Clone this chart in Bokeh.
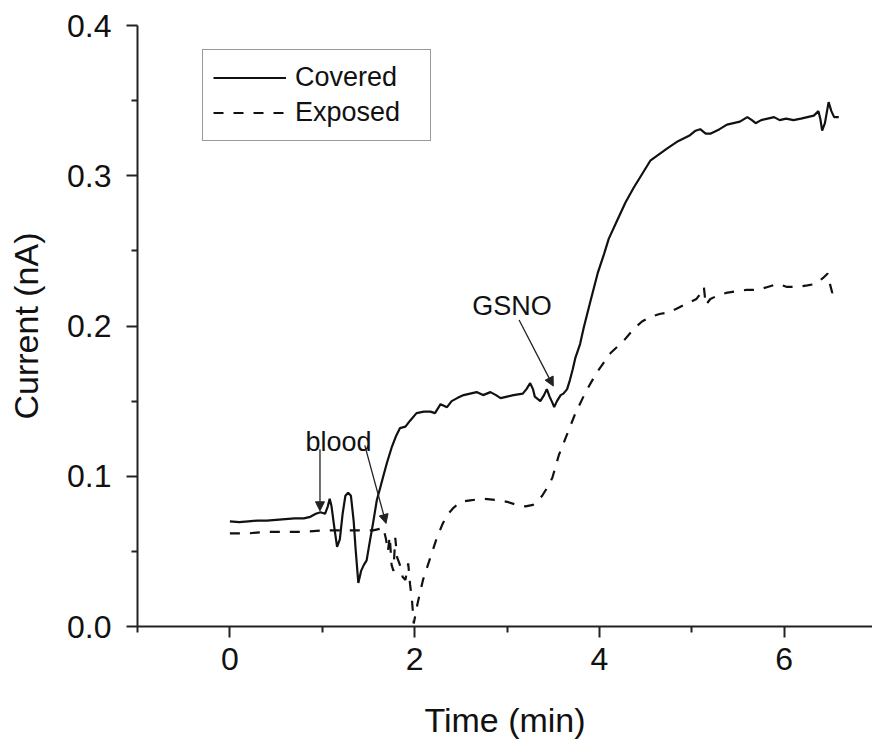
from bokeh.plotting import figure
from bokeh.models import (Range1d, FixedTicker, Legend, LegendItem, Arrow, NormalHead, Label,
                          CustomJSTickFormatter)
from bokeh.embed import file_html
from bokeh.resources import INLINE

# ---- data ----
covered_t = [0.00, 0.10, 0.20, 0.30, 0.40, 0.50, 0.60, 0.70, 0.80, 0.87, 0.93, 0.98, 1.03, 1.06,
             1.08, 1.10, 1.13, 1.16, 1.19, 1.22, 1.25, 1.28, 1.31, 1.34, 1.36, 1.39, 1.42, 1.45,
             1.48, 1.51, 1.55, 1.59, 1.63, 1.66, 1.70, 1.75, 1.80, 1.84, 1.90, 1.95, 2.02, 2.10,
             2.17, 2.22, 2.28, 2.35, 2.40, 2.46, 2.53, 2.60, 2.67, 2.74, 2.82, 2.88, 2.93, 3.00,
             3.07, 3.17, 3.21, 3.25, 3.28, 3.30, 3.36, 3.40, 3.43, 3.46, 3.49, 3.51, 3.54, 3.58,
             3.61, 3.65, 3.68, 3.71, 3.74, 3.79, 3.83, 3.90, 3.98, 4.05, 4.10, 4.19, 4.28, 4.37,
             4.46, 4.55, 4.64, 4.73, 4.85, 4.98, 5.04, 5.09, 5.15, 5.20, 5.30, 5.38, 5.45, 5.52,
             5.60, 5.65, 5.69, 5.75, 5.82, 5.89, 5.95, 6.02, 6.10, 6.18, 6.25, 6.32, 6.37, 6.39,
             6.41, 6.44, 6.48, 6.51, 6.54, 6.59]
covered_i = [0.070, 0.0695, 0.070, 0.0705, 0.0705, 0.071, 0.0715, 0.072, 0.072, 0.073, 0.075, 0.076,
             0.075, 0.080, 0.085, 0.080, 0.066, 0.053, 0.058, 0.075, 0.087, 0.089, 0.087, 0.070,
             0.052, 0.029, 0.037, 0.041, 0.044, 0.055, 0.069, 0.084, 0.093, 0.100, 0.109, 0.119,
             0.127, 0.132, 0.133, 0.137, 0.142, 0.143, 0.143, 0.142, 0.148, 0.146, 0.150, 0.152,
             0.154, 0.155, 0.156, 0.154, 0.156, 0.154, 0.152, 0.153, 0.154, 0.155, 0.158, 0.162,
             0.158, 0.153, 0.150, 0.154, 0.158, 0.153, 0.149, 0.146, 0.150, 0.154, 0.155, 0.158,
             0.164, 0.171, 0.179, 0.188, 0.199, 0.216, 0.235, 0.248, 0.258, 0.270, 0.282, 0.292,
             0.301, 0.310, 0.314, 0.318, 0.323, 0.327, 0.330, 0.331, 0.328, 0.328, 0.331, 0.334,
             0.335, 0.336, 0.339, 0.337, 0.335, 0.337, 0.338, 0.339, 0.337, 0.338, 0.337, 0.338,
             0.339, 0.340, 0.343, 0.338, 0.330, 0.335, 0.349, 0.343, 0.339, 0.339]

exposed_t = [0.00, 0.20, 0.40, 0.60, 0.80, 1.00, 1.20, 1.40, 1.55, 1.62, 1.66, 1.69, 1.71, 1.73,
             1.75, 1.77, 1.79, 1.81, 1.84, 1.87, 1.90, 1.93, 1.95, 1.97, 1.99, 2.03, 2.09, 2.17,
             2.24, 2.30, 2.35, 2.42, 2.50, 2.60, 2.75, 2.90, 3.00, 3.10, 3.20, 3.28, 3.34, 3.38,
             3.44, 3.49, 3.56, 3.65, 3.74, 3.85, 3.97, 4.12, 4.26, 4.37, 4.46, 4.55, 4.65, 4.75,
             4.85, 4.95, 5.05, 5.11, 5.13, 5.15, 5.20, 5.27, 5.37, 5.47, 5.59, 5.71, 5.82, 5.93,
             6.03, 6.14, 6.25, 6.34, 6.42, 6.47, 6.49, 6.52, 6.55, 6.58]
exposed_i = [0.062, 0.062, 0.063, 0.063, 0.063, 0.064, 0.064, 0.064, 0.064, 0.065, 0.066, 0.058,
             0.050, 0.060, 0.041, 0.037, 0.059, 0.046, 0.041, 0.033, 0.031, 0.042, 0.028, 0.018,
             0.002, 0.015, 0.031, 0.046, 0.059, 0.068, 0.074, 0.079, 0.083, 0.084, 0.085, 0.084,
             0.083, 0.081, 0.080, 0.081, 0.084, 0.087, 0.093, 0.099, 0.114, 0.128, 0.142, 0.156,
             0.169, 0.182, 0.190, 0.198, 0.203, 0.206, 0.208, 0.209, 0.212, 0.215, 0.218, 0.223,
             0.226, 0.214, 0.218, 0.220, 0.222, 0.223, 0.224, 0.224, 0.226, 0.228, 0.226, 0.226,
             0.227, 0.228, 0.232, 0.235, 0.229, 0.222, 0.225, 0.228]

series_names = ["Covered", "Exposed"]
x_major_ticks = [0, 2, 4, 6]
x_minor_ticks = [-1, 1, 3, 5]
y_major_ticks = [0.0, 0.1, 0.2, 0.3, 0.4]
y_minor_ticks = [0.05, 0.15, 0.25, 0.35]

# annotations: (text, x, y) and arrows (x0, y0, x1, y1)
notes = [("blood", 1.175, 0.1225), ("GSNO", 3.054, 0.2136)]
arrows = [(0.975, 0.118, 0.975, 0.077),
          (1.46, 0.1205, 1.69, 0.0686),
          (3.13, 0.204, 3.50, 0.160)]

FONT = "Liberation Sans"
INK = "#111111"

p = figure(width=872, height=746, output_backend="svg", toolbar_location=None,
           x_range=Range1d(-1.0, 6.955), y_range=Range1d(0.0, 0.4),
           min_border_left=137, min_border_right=0, min_border_top=25, min_border_bottom=120)
p.outline_line_color = None
p.xgrid.visible = False
p.ygrid.visible = False
p.background_fill_color = "white"
p.border_fill_color = "white"

r_cov = p.line(covered_t, covered_i, line_color=INK, line_width=2.2)
r_exp = p.line(exposed_t, exposed_i, line_color=INK, line_width=2.2, line_dash="10 10")

p.xaxis.ticker = FixedTicker(ticks=x_major_ticks, minor_ticks=x_minor_ticks)
p.yaxis.ticker = FixedTicker(ticks=y_major_ticks, minor_ticks=y_minor_ticks)
p.yaxis.formatter = CustomJSTickFormatter(code="return tick.toFixed(1);")

for ax in (p.xaxis[0], p.yaxis[0]):
    ax.axis_line_color = "#222222"
    ax.axis_line_width = 2
    ax.major_tick_line_color = "#222222"
    ax.major_tick_line_width = 2
    ax.minor_tick_line_color = "#222222"
    ax.minor_tick_line_width = 2
    ax.major_tick_in = 0
    ax.major_tick_out = 11
    ax.minor_tick_in = 0
    ax.minor_tick_out = 6
    ax.major_label_text_font = FONT
    ax.major_label_text_font_size = "32px"
    ax.major_label_text_color = INK
    ax.axis_label_text_font = FONT
    ax.axis_label_text_font_size = "34px"
    ax.axis_label_text_font_style = "normal"
    ax.axis_label_text_color = INK

p.xaxis.axis_label = "Time (min)"
p.yaxis.axis_label = "Current (nA)"
p.xaxis.major_label_standoff = 10
p.yaxis.major_label_standoff = 15
p.xaxis.axis_label_standoff = 28
p.yaxis.axis_label_standoff = 19

legend = Legend(items=[LegendItem(label=series_names[0], renderers=[r_cov]),
                       LegendItem(label=series_names[1], renderers=[r_exp])],
                location=(65, 485), padding=10, spacing=0, margin=0,
                label_height=35, glyph_height=35, glyph_width=73, label_standoff=9,
                label_width=125,
                label_text_font=FONT, label_text_font_size="27px", label_text_color=INK,
                border_line_color="#333333", border_line_width=1.5,
                background_fill_color="white", background_fill_alpha=1.0)
p.add_layout(legend, "center")

for (txt, x, y) in notes:
    p.add_layout(Label(x=x, y=y, text=txt, text_align="center", text_baseline="alphabetic",
                       text_font=FONT, text_font_size="27px", text_color=INK))

for (x0, y0, x1, y1) in arrows:
    p.add_layout(Arrow(x_start=x0, y_start=y0, x_end=x1, y_end=y1,
                       line_color="#222222", line_width=1.3,
                       end=NormalHead(size=9, fill_color="#222222", line_color="#222222",
                                      line_width=1)))

open("out.html", "w").write(file_html(p, INLINE))
